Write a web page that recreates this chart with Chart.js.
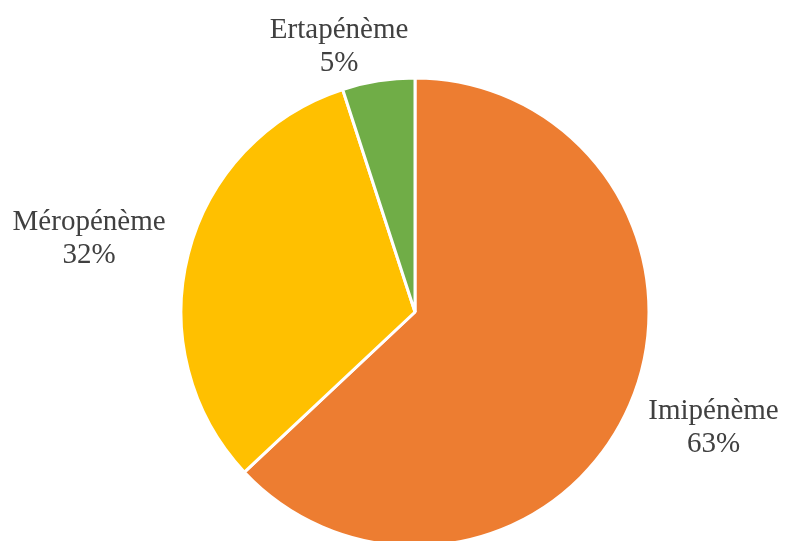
<!DOCTYPE html>
<html>
<head>
<meta charset="utf-8">
<script src="https://cdn.jsdelivr.net/npm/chart.js@4.4.1/dist/chart.umd.min.js"></script>
<style>
  html, body { margin: 0; padding: 0; background: #fff; overflow: hidden; }
  #wrap { width: 787px; height: 541px; overflow: hidden; position: relative; }
  #wrap canvas { position: absolute; left: 0; top: 0; }
</style>
</head>
<body>
<div id="wrap"><canvas id="c" width="787" height="624"></canvas></div>
<script>
// Share of each carbapenem
const categories = ['Imipénème', 'Méropénème', 'Ertapénème'];
const shares = [63, 32, 5];
const colors = ['#ED7D31', '#FFC000', '#70AD47'];

// Outside-end labels: name on the first line, percentage on the second.
// Each box sits just beyond the slice's outer edge along its mid-angle; a box
// pushed down to stay inside the visible area slides sideways by the same
// amount so it stays clear of the pie.
const outsideLabels = {
  id: 'outsideLabels',
  afterDatasetsDraw(chart) {
    const ctx = chart.ctx;
    const meta = chart.getDatasetMeta(0);
    const total = shares.reduce((a, b) => a + b, 0);
    ctx.save();
    ctx.font = '29px "Liberation Serif", "Times New Roman", serif';
    ctx.fillStyle = '#404040';
    ctx.textAlign = 'center';
    ctx.textBaseline = 'middle';
    const lineH = 33;
    const minTop = 14;
    meta.data.forEach((arc, i) => {
      const p = arc.getProps(['x', 'y', 'startAngle', 'endAngle', 'outerRadius'], true);
      const mid = (p.startAngle + p.endAngle) / 2;
      const dx = Math.cos(mid), dy = Math.sin(mid);
      const r = p.outerRadius + 26;
      const ax = p.x + dx * r, ay = p.y + dy * r;
      const line1 = categories[i];
      const line2 = Math.round(shares[i] / total * 100) + '%';
      const w = Math.max(ctx.measureText(line1).width, ctx.measureText(line2).width);
      const h = lineH * 2;
      let cx = ax + dx * w / 2;
      let cy = ay + dy * h / 2;
      if (cy - h / 2 < minTop) {
        const push = minTop + h / 2 - cy;
        cy += push;
        cx += Math.sign(dx) * push;
      }
      ctx.fillText(line1, cx, cy - lineH / 2);
      ctx.fillText(line2, cx, cy + lineH / 2);
    });
    ctx.restore();
  }
};

new Chart(document.getElementById('c'), {
  type: 'pie',
  data: {
    labels: categories,
    datasets: [{
      data: shares,
      backgroundColor: colors,
      borderColor: '#ffffff',
      borderWidth: 3,
      radius: 234
    }]
  },
  options: {
    responsive: false,
    animation: false,
    layout: { padding: { left: 43 } },
    plugins: {
      legend: { display: false },
      tooltip: { enabled: false }
    }
  },
  plugins: [outsideLabels]
});
</script>
</body>
</html>
